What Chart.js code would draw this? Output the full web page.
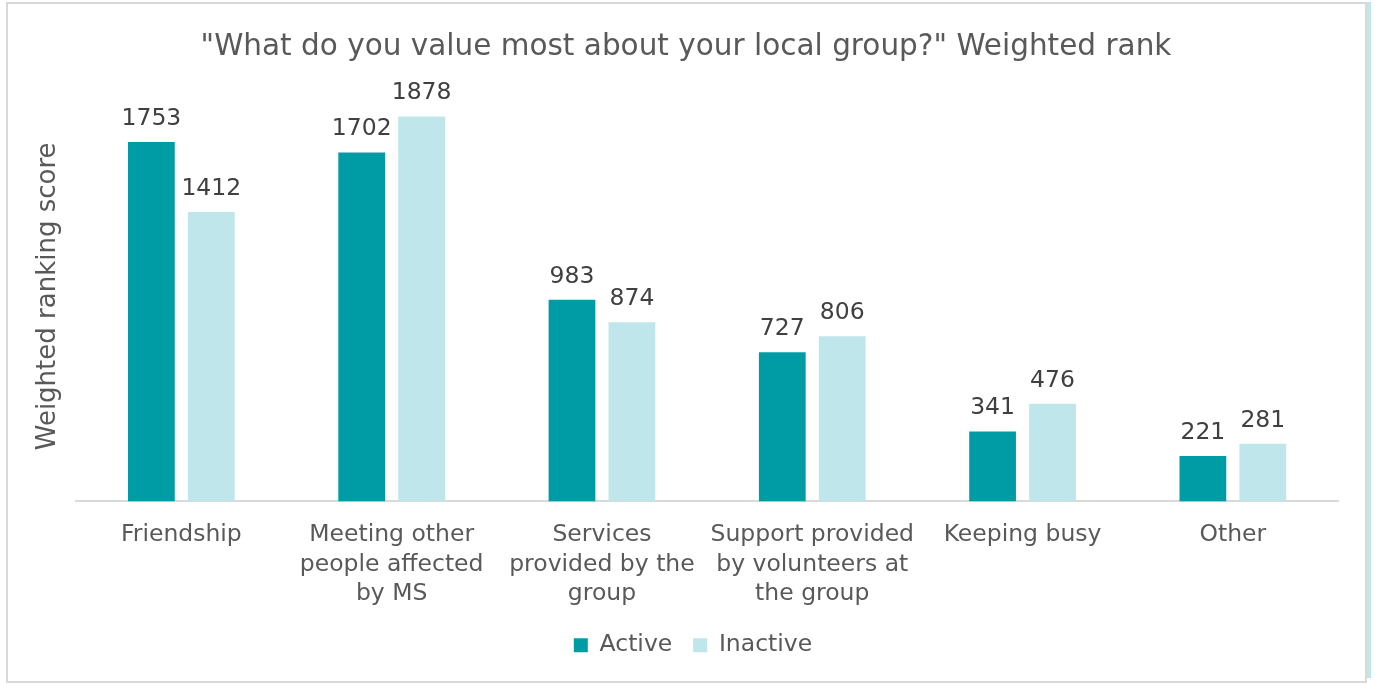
<!DOCTYPE html>
<html>
<head>
<meta charset="utf-8">
<script src="https://cdn.jsdelivr.net/npm/chart.js@4"></script>
<style>
  html, body { margin: 0; padding: 0; background: #fff; }
  .frame {
    position: absolute; left: 6px; top: 2px;
    width: 1357px; height: 677px;
    border: 2px solid #d9d9d9;
  }
  .edge {
    position: absolute; left: 1367px; top: 2px;
    width: 4px; height: 676px;
    background: #bfe6ea;
  }
  canvas { display: block; }
</style>
</head>
<body>
<div class="frame"><canvas id="rankChart" width="1357" height="677"></canvas></div>
<div class="edge"></div>
<script>
// Weighted rank per answer, split by group membership
const categories = [
  "Friendship",
  ["Meeting other", "people affected", "by MS"],
  ["Services", "provided by the", "group"],
  ["Support provided", "by volunteers at", "the group"],
  "Keeping busy",
  "Other"
];
const activeScores = [1753, 1702, 983, 727, 341, 221];
const inactiveScores = [1412, 1878, 874, 806, 476, 281];

const FONT = "'DejaVu Sans', Verdana, sans-serif";

// Writes each bar's value just above it
const valueLabels = {
  id: "valueLabels",
  afterDatasetsDraw(chart) {
    const ctx = chart.ctx;
    ctx.save();
    ctx.font = "23.5px " + FONT;
    ctx.fillStyle = "#404040";
    ctx.textAlign = "center";
    ctx.textBaseline = "alphabetic";
    chart.data.datasets.forEach((ds, i) => {
      chart.getDatasetMeta(i).data.forEach((bar, j) => {
        ctx.fillText(String(ds.data[j]), bar.x, bar.y - 17);
      });
    });
    ctx.restore();
  }
};

// Nudge title and legend a little to the right of the canvas centre
const centreShift = {
  id: "centreShift",
  afterLayout(chart) {
    const nudge = (box, dx) => {
      if (!box) return;
      box.left += dx;
      box.right += dx;
    };
    nudge(chart.titleBlock, 8);
    nudge(chart.legend, 15);
  }
};

new Chart(document.getElementById("rankChart"), {
  type: "bar",
  data: {
    labels: categories,
    datasets: [
      {
        label: "Active",
        data: activeScores,
        backgroundColor: "#009ca6",
        barPercentage: 0.78,
        categoryPercentage: 0.57
      },
      {
        label: "Inactive",
        data: inactiveScores,
        backgroundColor: "#bfe6ea",
        barPercentage: 0.78,
        categoryPercentage: 0.57
      }
    ]
  },
  options: {
    responsive: false,
    animation: false,
    layout: { padding: { left: 10, right: 27, top: 0, bottom: 14 } },
    plugins: {
      title: {
        display: true,
        text: "\"What do you value most about your local group?\" Weighted rank",
        color: "#595959",
        font: { family: FONT, size: 29.5, weight: "normal" },
        padding: { top: 26, bottom: 26 }
      },
      legend: {
        position: "bottom",
        labels: {
          color: "#595959",
          font: { family: FONT, size: 23.5 },
          boxWidth: 14,
          boxHeight: 14,
          padding: 6,
          generateLabels(chart) {
            const items = Chart.defaults.plugins.legend.labels.generateLabels(chart);
            // extra room between the two entries
            items.forEach((item, i) => {
              if (i < items.length - 1) item.text += "  ";
            });
            return items;
          }
        }
      },
      tooltip: { enabled: false }
    },
    scales: {
      x: {
        grid: { display: false, drawTicks: false },
        border: { display: true, color: "#d9d9d9", width: 2 },
        ticks: {
          color: "#595959",
          font: { family: FONT, size: 23.5, lineHeight: 1.25 },
          padding: 19,
          maxRotation: 0,
          autoSkip: false
        }
      },
      y: {
        min: 0,
        max: 2000,
        grid: { display: false, drawTicks: false },
        border: { display: false },
        ticks: { display: false },
        title: {
          display: true,
          text: "Weighted ranking score",
          color: "#595959",
          font: { family: FONT, size: 26 },
          padding: { top: 15, bottom: 12 }
        }
      }
    }
  },
  plugins: [valueLabels, centreShift]
});
</script>
</body>
</html>
